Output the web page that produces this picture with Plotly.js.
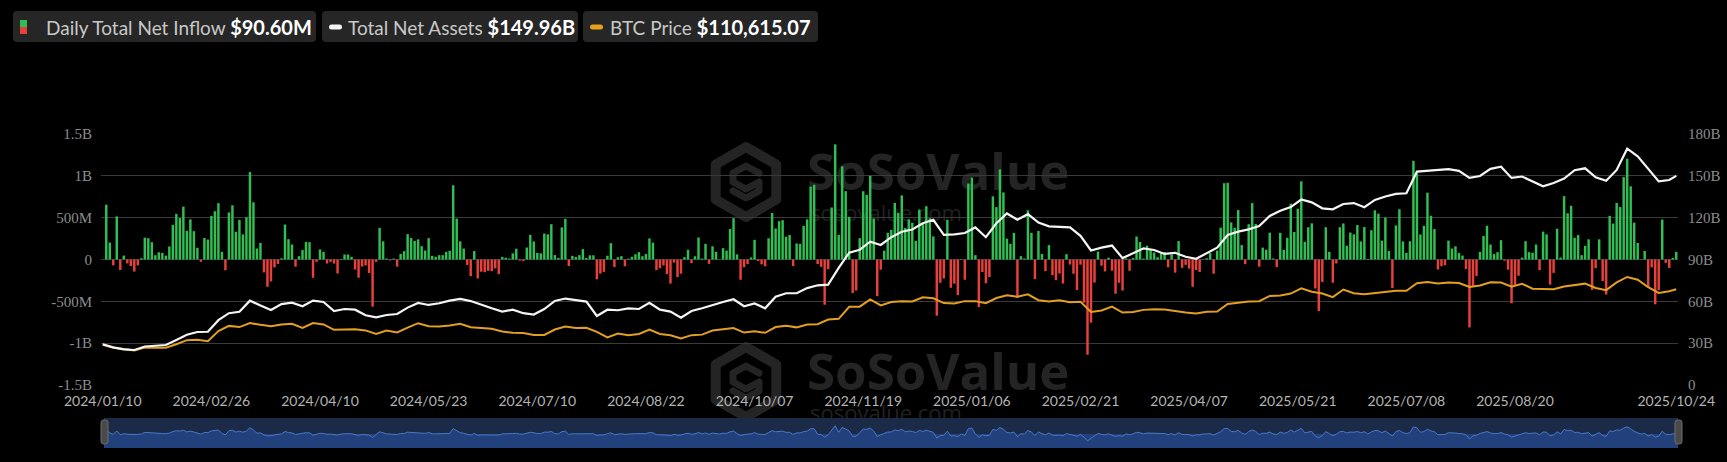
<!DOCTYPE html>
<html><head><meta charset="utf-8">
<script src="https://cdn.plot.ly/plotly-3.0.1.min.js"></script>
<style>html,body{margin:0;padding:0;background:#000;}#chart{width:1727px;height:462px;}</style>
</head><body><div id="chart"></div>
<script>
// ---------------- DATA ----------------
const FIRST_DAY = '2024-01-10';
const LAST_DAY = '2025-10-24';
const MARKET_HOLIDAYS = ['2024-01-15','2024-02-19','2024-03-29','2024-05-27','2024-06-19','2024-07-04','2024-09-02','2024-11-28','2024-12-25',
  '2025-01-01','2025-01-09','2025-01-20','2025-02-17','2025-04-18','2025-05-26','2025-06-19','2025-07-04','2025-09-01'];

// Daily Total Net Inflow, $M, one value per trading day
const INFLOW_M = [
  null, 655, 203, -70, 515, -125, 47, -47, -78, -144, -70,
  16, 261, 254, 207, 51, 86, 78, 47, 156, 413,
  546, 495, 632, 343, 480, 339, 140, -27, 257, 238,
  520, 577, 673, 92, -129, 562, 648, 332, 472, 300,
  505, 1045, 684, 132, 199, -154, -326, -261, -94, -53,
  15, 418, 243, 179, -86, 40, 113, 211, 207, -219,
  -28, 120, 92, -48, -28, -48, -167, 5, 60, 60,
  32, -120, -218, -84, -71, -162, -564, -28, 378, 217,
  12, -11, 12, -85, 66, 100, 303, 257, 222, 241,
  159, 107, 255, 44, 32, 52, 52, 92, 105, 887,
  488, 217, 131, -65, -200, 101, -226, -146, -152, -135,
  -140, -106, -175, 31, 21, 12, 73, 129, -13, -20,
  143, 295, 216, 78, 73, 310, 301, 422, 53, 19,
  384, 486, -78, 44, 31, 52, 124, 18, 50, 50,
  -237, -168, -148, 45, 195, -89, 27, 40, -81, 11,
  33, 62, 88, 39, 65, 252, 202, -127, -105, -71,
  -175, -288, -37, -211, -169, 28, 117, -43, 39, 263,
  12, 187, -52, 158, 92, 4, 136, 106, 365, 494,
  61, -242, -92, -55, 25, 235, -18, -58, -81, 254,
  556, 371, 458, 470, 273, 294, -79, 192, 188, 402,
  480, 870, 893, -54, -88, -541, -116, 622, 1376, 294,
  1114, 817, 510, -400, -371, 255, 816, 773, 1000, 490,
  -438, -122, 105, 320, 354, 676, 557, 766, 376, 479,
  439, 223, 597, 428, 637, 493, 276, -672, -278, -227,
  475, -338, -288, -426, 5, -242, 908, 978, 52, -568,
  -149, -284, -209, 755, 626, 1076, 802, 249, 188, 318,
  -458, 40, 12, 588, 318, -235, 340, 66, -140, 171,
  -187, -247, -167, -287, 64, -60, -170, -365, -62, -516,
  -1138, -754, -276, 94, -74, -143, 22, -134, -409, -278,
  -371, 13, -135, 17, 275, 209, 11, 165, 120, 84,
  27, 89, 89, -93, 60, -157, 220, -100, -64, -109,
  -326, -127, -150, 1, 15, 76, -170, 107, 381, 912,
  917, 443, 380, 591, 173, -56, 422, 675, 425, -86,
  142, 117, 321, 12, -91, 319, 115, 260, 667, 329,
  607, 934, 211, 385, 432, -347, -616, -268, 386, 92,
  -278, -47, 386, 431, 165, 322, 301, 412, 216, 389,
  6, 350, 588, 548, 226, 501, 102, -342, 407, 601,
  216, 80, 218, 1180, 1030, 299, 403, 799, 523, 363,
  -120, -80, -68, 226, 131, 157, 80, 47, -114, -812,
  -323, -196, 91, 281, 404, 179, 65, 87, 231, -14,
  -122, -523, -311, -194, 23, 219, 88, 81, 179, -127,
  333, 301, -300, -160, 368, 23, 757, 553, 642, 260,
  292, 52, 163, 241, -363, -104, 241, -258, -418, 522,
  430, 676, 627, 985, 1205, 875, 441, 198, -4.5, 102,
  -326, -94, -536, -367, 477, -40, -101, 20, 90.6
];

// Lines are read every 3rd trading day (plus the last day)
const LINE_STEP = 3;
// Total Net Assets, $B
const NET_ASSETS_B = [
  29.2, 27.0, 25.6, 25.1, 27.6, 28.0, 28.7, 32.3, 36.0, 38.0,
  38.2, 46.5, 51.5, 52.5, 60.5, 57.0, 53.8, 58.0, 59.0, 56.5,
  60.5, 59.5, 53.0, 54.5, 54.0, 50.0, 48.5, 50.2, 50.9, 55.5,
  58.8, 57.4, 58.6, 60.5, 61.8, 60.2, 57.4, 55.0, 52.6, 54.0,
  51.5, 50.5, 54.5, 60.3, 62.0, 61.0, 59.8, 49.5, 54.0, 53.6,
  55.0, 54.5, 59.0, 54.0, 52.6, 48.3, 53.1, 55.0, 57.4, 59.5,
  61.5, 56.5, 58.5, 55.0, 63.3, 65.8, 65.8, 69.5, 71.5, 72.0,
  84.0, 94.9, 97.0, 102.8, 100.4, 106.0, 109.9, 111.5, 116.0, 118.5,
  107.6, 108.0, 109.0, 113.0, 106.0, 116.0, 123.0, 118.5, 122.5, 116.5,
  113.8, 113.5, 113.0, 107.0, 96.5, 98.5, 100.0, 91.0, 94.4, 98.0,
  96.8, 94.0, 94.8, 92.0, 90.5, 94.4, 98.5, 107.6, 110.0, 111.6,
  114.0, 121.2, 125.0, 127.6, 133.0, 131.0, 126.7, 126.0, 129.8, 130.5,
  127.5, 132.7, 135.2, 137.0, 137.5, 153.0, 153.5, 154.0, 154.8, 153.6,
  148.5, 149.9, 155.0, 156.5, 148.5, 149.5, 145.8, 142.5, 144.8, 148.0,
  154.0, 155.4, 149.0, 146.5, 154.2, 169.5, 164.0, 155.0, 146.0, 147.0,
  149.96
];
// BTC Price, $
const BTC_PRICE = [
  46600, 43100, 41600, 40000, 43300, 43100, 43100, 47100, 51800, 52300,
  50700, 62400, 68300, 66900, 71500, 69500, 67900, 69900, 70800, 65900,
  71600, 70000, 63800, 64000, 64300, 63100, 59100, 62900, 60800, 66200,
  71400, 67900, 67600, 68800, 70800, 66800, 66000, 64900, 61800, 60300,
  60200, 57700, 57900, 64100, 67600, 65800, 66200, 61400, 55000, 59400,
  57600, 59000, 64100, 59000, 57500, 53900, 57600, 58200, 62900, 64300,
  65800, 60600, 62200, 60300, 67000, 68400, 66600, 69900, 70200, 75600,
  76500, 90400, 90500, 98900, 91900, 95900, 96900, 96600, 101400, 100200,
  94700, 94200, 96900, 96900, 94500, 100500, 103700, 102100, 104700, 98000,
  96500, 97800, 95600, 96100, 84300, 86100, 90600, 83700, 84300, 86800,
  87500, 87200, 85200, 83800, 82600, 84500, 84900, 93700, 95000, 96500,
  96800, 102900, 103500, 105600, 111700, 107800, 105700, 101500, 110300, 106100,
  104900, 106000, 107100, 108800, 108900, 117500, 119000, 117400, 118400, 117900,
  113200, 114900, 118700, 118300, 113500, 116900, 111300, 111200, 110700, 113900,
  115300, 117100, 112100, 109600, 118600, 124800, 121600, 113000, 106400, 108400,
  110615.07
];

const X_TICK_LABELS = ['2024/01/10','2024/02/26','2024/04/10','2024/05/23','2024/07/10','2024/08/22','2024/10/07',
  '2024/11/19','2025/01/06','2025/02/21','2025/04/07','2025/05/21','2025/07/08','2025/08/20','2025/10/24'];
const LEFT_TICK_VALUES = [-1500, -1000, -500, 0, 500, 1000, 1500];
const LEFT_TICK_LABELS = ['-1.5B', '-1B', '-500M', '0', '500M', '1B', '1.5B'];
const RIGHT_TICK_VALUES = [0, 30, 60, 90, 120, 150, 180];
const RIGHT_TICK_LABELS = ['0', '30B', '60B', '90B', '120B', '150B', '180B'];
const LEGEND_NAMES = ['Daily Total Net Inflow', 'Total Net Assets', 'BTC Price'];

// ---------------- BUILD ----------------
function tradingDays(first, last, holidays) {
  const out = [], hs = new Set(holidays);
  let d = new Date(first + 'T00:00:00Z');
  const end = new Date(last + 'T00:00:00Z');
  while (d <= end) {
    const wd = d.getUTCDay();
    const iso = d.toISOString().slice(0, 10);
    if (wd !== 0 && wd !== 6 && !hs.has(iso)) out.push(iso.replace(/-/g, '/'));
    d = new Date(d.getTime() + 86400000);
  }
  return out;
}
const DATES = tradingDays(FIRST_DAY, LAST_DAY, MARKET_HOLIDAYS);
const LINE_DATES = DATES.filter((d, i) => i % LINE_STEP === 0 || i === DATES.length - 1);

const W = 1727, H = 462;
const PX = v => v / W, PY = v => 1 - v / H;
const PLOT_L = 101, PLOT_R = 1678, PLOT_T = 134, PLOT_B = 385;
const NAV_T = 418, NAV_B = 448;
const GREEN = '#2fbf52', RED = '#e8413b', ORANGE = '#e3a020', WHITE = '#f5f5f5';
const WM = '#242424';

function rr(x0, y0, x1, y1, r) {
  return `M${PX(x0 + r)},${PY(y0)} L${PX(x1 - r)},${PY(y0)} Q${PX(x1)},${PY(y0)} ${PX(x1)},${PY(y0 + r)} ` +
    `L${PX(x1)},${PY(y1 - r)} Q${PX(x1)},${PY(y1)} ${PX(x1 - r)},${PY(y1)} L${PX(x0 + r)},${PY(y1)} ` +
    `Q${PX(x0)},${PY(y1)} ${PX(x0)},${PY(y1 - r)} L${PX(x0)},${PY(y0 + r)} Q${PX(x0)},${PY(y0)} ${PX(x0 + r)},${PY(y0)} Z`;
}
const last = a => a[a.length - 1];
const inflowText = '$' + last(INFLOW_M).toFixed(2) + 'M';
const assetsText = '$' + last(NET_ASSETS_B).toFixed(2) + 'B';
const btcText = '$' + last(BTC_PRICE).toLocaleString('en-US', {minimumFractionDigits: 2, maximumFractionDigits: 2});

const traces = [
  {type: 'bar', x: DATES, y: INFLOW_M, xaxis: 'x', yaxis: 'y',
   marker: {color: INFLOW_M.map(v => (v === null || v >= 0) ? GREEN : RED), line: {width: 0}}, hoverinfo: 'skip'},
  {type: 'scatter', mode: 'lines', x: LINE_DATES, y: BTC_PRICE, xaxis: 'x', yaxis: 'y2',
   line: {color: ORANGE, width: 2}, hoverinfo: 'skip'},
  {type: 'scatter', mode: 'lines', x: LINE_DATES, y: NET_ASSETS_B, xaxis: 'x', yaxis: 'y3',
   line: {color: WHITE, width: 2.2}, hoverinfo: 'skip'},
  {type: 'scatter', mode: 'lines', x: DATES, y: INFLOW_M, xaxis: 'x2', yaxis: 'y4',
   fill: 'tozeroy', fillcolor: '#22407c', line: {color: '#4a78c6', width: 1}, hoverinfo: 'skip'}
];

const wmSvg = `<svg xmlns="http://www.w3.org/2000/svg" width="370" height="92" viewBox="0 0 370 92">
<polygon points="41,9 71.3,26.5 71.3,61.5 41,79 10.7,61.5 10.7,26.5" fill="none" stroke="${WM}" stroke-width="10" stroke-linejoin="round"/>
<path d="M54,35 L41,28 L28,35 L28,44 L41,51 L54,44 L54,53 L41,60 L28,53" fill="none" stroke="${WM}" stroke-width="7" stroke-linejoin="round" stroke-linecap="round"/>
<text x="102" y="52" font-family="Open Sans" font-weight="700" font-size="51" fill="${WM}">SoSoValue</text>
<text x="105" y="83" font-family="Open Sans" font-size="22" fill="#202020">sosovalue.com</text>
</svg>`;
const wmSrc = 'data:image/svg+xml;charset=utf-8,' + encodeURIComponent(wmSvg);

const tickFontSerif = {family: 'Liberation Serif', size: 15, color: '#8c8c8c'};

const layout = {
  width: W, height: H,
  margin: {l: 0, r: 0, t: 0, b: 0},
  paper_bgcolor: '#000000', plot_bgcolor: 'rgba(0,0,0,0)',
  showlegend: false, bargap: 0.3, hovermode: false,
  xaxis: {domain: [PX(PLOT_L), PX(PLOT_R)], anchor: 'y', type: 'category', categoryorder: 'array', categoryarray: DATES,
    range: [-0.5, DATES.length - 0.5], tickmode: 'array', tickvals: X_TICK_LABELS, ticktext: X_TICK_LABELS,
    showgrid: false, zeroline: false, showline: false, ticks: '', ticklabelstandoff: 6,
    tickfont: {family: 'Lato', size: 14, color: '#b4b4b4'}, automargin: false, fixedrange: true},
  yaxis: {domain: [PY(PLOT_B), PY(PLOT_T)], anchor: 'x', range: [-1500, 1500], tickmode: 'array',
    tickvals: LEFT_TICK_VALUES, ticktext: LEFT_TICK_LABELS, gridcolor: '#3a3a3a', gridwidth: 1,
    zeroline: false, showline: false, ticks: '', ticklabelstandoff: 8, tickfont: tickFontSerif, automargin: false, fixedrange: true},
  yaxis2: {overlaying: 'y', anchor: 'x', range: [0, 290000], visible: false, fixedrange: true},
  yaxis3: {overlaying: 'y', anchor: 'x', side: 'right', range: [0, 180], tickmode: 'array',
    tickvals: RIGHT_TICK_VALUES, ticktext: RIGHT_TICK_LABELS, showgrid: false, zeroline: false, showline: false,
    ticks: '', ticklabelstandoff: 9, tickfont: tickFontSerif, automargin: false, fixedrange: true},
  xaxis2: {domain: [PX(PLOT_L), PX(PLOT_R)], anchor: 'y4', type: 'category', categoryorder: 'array', categoryarray: DATES,
    range: [-0.5, DATES.length - 0.5], visible: false, fixedrange: true},
  yaxis4: {domain: [PY(NAV_B), PY(NAV_T)], anchor: 'x2', range: [-2330, 2670], visible: false, fixedrange: true},
  images: [
    {source: wmSrc, xref: 'paper', yref: 'paper', x: PX(705), y: PY(138), sizex: PX(370), sizey: 92 / H,
     xanchor: 'left', yanchor: 'top', sizing: 'stretch', layer: 'below'},
    {source: wmSrc, xref: 'paper', yref: 'paper', x: PX(705), y: PY(338), sizex: PX(370), sizey: 92 / H,
     xanchor: 'left', yanchor: 'top', sizing: 'stretch', layer: 'below'}
  ],
  shapes: [
    // navigator background
    {type: 'rect', xref: 'paper', yref: 'paper', x0: PX(PLOT_L + 3), x1: PX(PLOT_R), y0: PY(NAV_B), y1: PY(NAV_T),
     fillcolor: '#1b2a47', line: {width: 0}, layer: 'below'},
    {type: 'rect', xref: 'paper', yref: 'y4', x0: PX(PLOT_L + 3), x1: PX(PLOT_R), y0: -2330, y1: 0,
     fillcolor: '#22407c', line: {width: 0}, layer: 'below'},
    // navigator handles
    {type: 'path', xref: 'paper', yref: 'paper', path: rr(101, 420, 108, 444, 2.5), fillcolor: '#4a4a4a', line: {color: '#6e6e6e', width: 1}},
    {type: 'path', xref: 'paper', yref: 'paper', path: rr(1675, 420, 1682, 444, 2.5), fillcolor: '#4a4a4a', line: {color: '#6e6e6e', width: 1}},
    // legend boxes
    {type: 'path', xref: 'paper', yref: 'paper', path: rr(13, 11, 316, 42, 4), fillcolor: '#262626', line: {width: 0}},
    {type: 'path', xref: 'paper', yref: 'paper', path: rr(322, 11, 578, 42, 4), fillcolor: '#262626', line: {width: 0}},
    {type: 'path', xref: 'paper', yref: 'paper', path: rr(583, 11, 818, 42, 4), fillcolor: '#262626', line: {width: 0}},
    // legend icons
    {type: 'rect', xref: 'paper', yref: 'paper', x0: PX(20), x1: PX(27), y0: PY(27), y1: PY(20), fillcolor: GREEN, line: {width: 0}},
    {type: 'rect', xref: 'paper', yref: 'paper', x0: PX(20), x1: PX(27), y0: PY(34), y1: PY(27), fillcolor: RED, line: {width: 0}},
    {type: 'path', xref: 'paper', yref: 'paper', path: rr(329, 24.5, 342, 29.5, 2.5), fillcolor: WHITE, line: {width: 0}},
    {type: 'path', xref: 'paper', yref: 'paper', path: rr(590, 24.5, 603, 29.5, 2.5), fillcolor: ORANGE, line: {width: 0}}
  ],
  annotations: [
    {xref: 'paper', yref: 'paper', x: PX(44), y: PY(27), xanchor: 'left', yanchor: 'middle', showarrow: false,
     text: `<span style="color:#c8c8c8">${LEGEND_NAMES[0]}</span> <b><span style="font-size:20px">${inflowText}</span></b>`,
     font: {family: 'Lato', size: 19, color: '#ffffff'}},
    {xref: 'paper', yref: 'paper', x: PX(346), y: PY(27), xanchor: 'left', yanchor: 'middle', showarrow: false,
     text: `<span style="color:#c8c8c8">${LEGEND_NAMES[1]}</span> <b><span style="font-size:20px">${assetsText}</span></b>`,
     font: {family: 'Lato', size: 19, color: '#ffffff'}},
    {xref: 'paper', yref: 'paper', x: PX(608), y: PY(27), xanchor: 'left', yanchor: 'middle', showarrow: false,
     text: `<span style="color:#c8c8c8">${LEGEND_NAMES[2]}</span> <b><span style="font-size:20px">${btcText}</span></b>`,
     font: {family: 'Lato', size: 19, color: '#ffffff'}}
  ]
};

Plotly.newPlot('chart', traces, layout, {displayModeBar: false, staticPlot: true});
</script>
</body></html>
